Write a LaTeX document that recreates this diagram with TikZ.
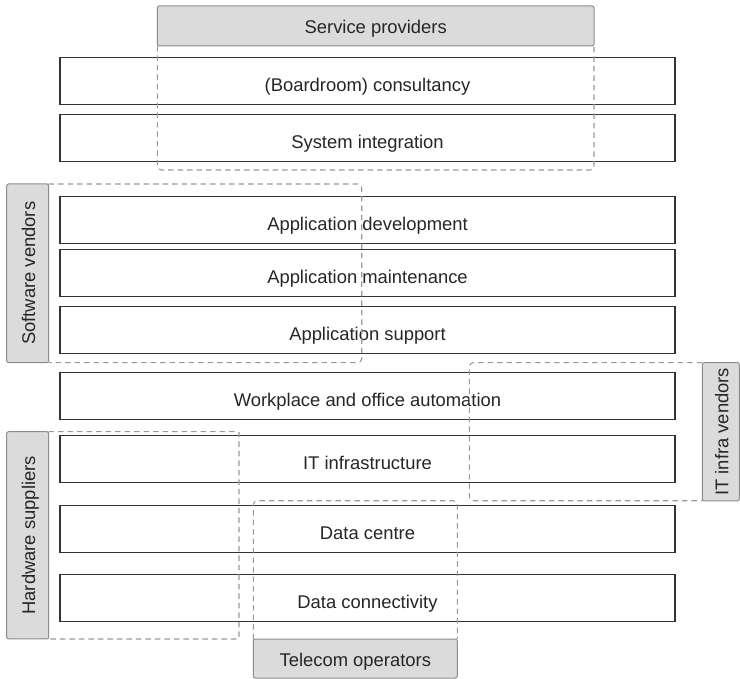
\documentclass[tikz,border=0pt]{standalone}
\usepackage{fontspec}
\setmainfont{Liberation Sans}
\begin{document}
\begin{tikzpicture}[x=1pt,y=-1pt,
  every node/.style={font=\fontsize{18.4}{21}\selectfont, text=black!85},
  rowbox/.style={draw=black!80, line width=1.2pt, fill=white, rectangle,
    minimum width=615pt, minimum height=47pt, inner sep=0pt, outer sep=0pt,
    text height=21pt, text depth=0pt},
  tagbox/.style={draw=black!45, line width=1pt, fill=black!14, rectangle,
    rounded corners=2pt, inner sep=0pt, outer sep=0pt,
    text height=15pt, text depth=0pt},
  region/.style={draw=black!40, line width=1.1pt, dash pattern=on 5.5pt off 4pt,
    rounded corners=4pt}]
\useasboundingbox (0,0) rectangle (740,679);

% layers of the IT value chain
\node[rowbox] (consult)  at (367.5,81)    {(Boardroom) consultancy};
\node[rowbox] (sysint)   at (367.5,137.7) {System integration};
\node[rowbox] (appdev)   at (367.5,220)   {Application development};
\node[rowbox] (appmaint) at (367.5,273)   {Application maintenance};
\node[rowbox] (appsup)   at (367.5,330)   {Application support};
\node[rowbox] (workpl)   at (367.5,396.3) {Workplace and office automation};
\node[rowbox] (itinfra)  at (367.5,459.3) {IT infrastructure};
\node[rowbox] (datacen)  at (367.5,528.8) {Data centre};
\node[rowbox] (dataconn) at (367.5,598)   {Data connectivity};

% supplier groups: dashed regions
\draw[region] (157.3,46) -- (157.3,170) -- (594,170) -- (594,46);
\draw[region] (48.7,184) -- (361.7,184) -- (361.7,362.7) -- (48.7,362.7);
\draw[region] (702,362.7) -- (469.3,362.7) -- (469.3,500.7) -- (702,500.7);
\draw[region, rounded corners=1pt] (48.7,431.7) -- (239,431.7) -- (239,639) -- (48.7,639);
\draw[region] (253.3,639) -- (253.3,500.7) -- (457.3,500.7) -- (457.3,639);

% supplier group labels
\node[tagbox, minimum width=436.7pt, minimum height=40pt] (svcprov) at (375.7,26) {Service providers};
\node[tagbox, rotate=90, minimum width=178.7pt, minimum height=42pt] (swvend) at (27.7,273.3) {Software vendors};
\node[tagbox, rotate=90, minimum width=138.3pt, minimum height=37pt] (itvend) at (720.8,431.8) {IT infra vendors};
\node[tagbox, rotate=90, minimum width=207.3pt, minimum height=42pt] (hwsup) at (27.7,535.3) {Hardware suppliers};
\node[tagbox, minimum width=204pt, minimum height=39pt] (telecom) at (355.3,658.5) {Telecom operators};
\end{tikzpicture}
\end{document}
